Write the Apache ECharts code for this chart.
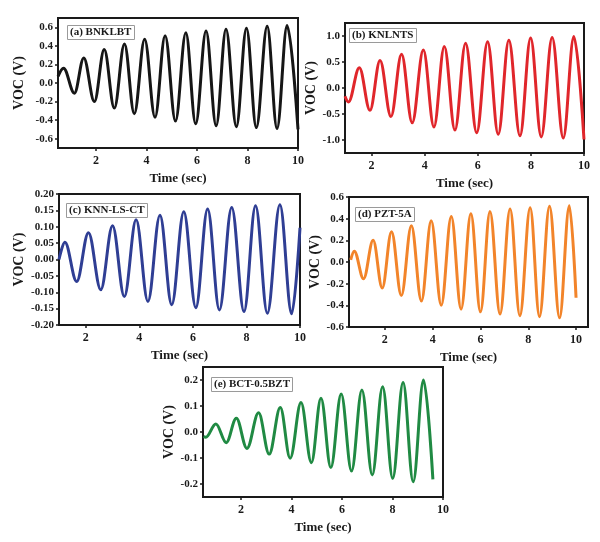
<!DOCTYPE html>
<html>
<head>
<meta charset="utf-8">
<script src="https://cdn.jsdelivr.net/npm/echarts@6/dist/echarts.min.js"></script>
<style>
  html, body { margin: 0; padding: 0; background: #fff; }
  #chart { width: 600px; height: 542px; }
</style>
</head>
<body>
<div id="chart"></div>
<script>
// turning points (peaks / troughs), time in sec, VOC in V
const timeA = [0.5, 0.72, 1.15, 1.52, 1.94, 2.33, 2.73, 3.13, 3.52, 3.93, 4.34, 4.74, 5.15, 5.56, 5.95, 6.36, 6.76, 7.15, 7.56, 7.96, 8.35, 8.78, 9.17, 9.57, 10.0]
const vocA = [0.07, 0.16, -0.11, 0.27, -0.2, 0.36, -0.27, 0.42, -0.33, 0.47, -0.37, 0.51, -0.41, 0.54, -0.44, 0.56, -0.46, 0.58, -0.47, 0.59, -0.48, 0.61, -0.49, 0.62, -0.5]

const timeB = [1.0, 1.13, 1.54, 1.94, 2.32, 2.73, 3.13, 3.53, 3.95, 4.35, 4.74, 5.14, 5.54, 5.96, 6.37, 6.77, 7.17, 7.59, 7.99, 8.39, 8.8, 9.22, 9.62, 10.0]
const vocB = [-0.16, -0.27, 0.39, -0.43, 0.53, -0.55, 0.65, -0.67, 0.73, -0.75, 0.8, -0.81, 0.86, -0.86, 0.89, -0.89, 0.92, -0.92, 0.96, -0.94, 0.97, -0.96, 0.99, -0.99]

const timeC = [1.0, 1.22, 1.66, 2.1, 2.56, 3.0, 3.44, 3.88, 4.32, 4.77, 5.21, 5.66, 6.11, 6.55, 6.99, 7.45, 7.91, 8.34, 8.78, 9.25, 9.69, 10.0]
const vocC = [0.0, 0.053, -0.067, 0.082, -0.092, 0.103, -0.113, 0.121, -0.128, 0.135, -0.138, 0.146, -0.147, 0.154, -0.154, 0.159, -0.159, 0.164, -0.164, 0.167, -0.166, 0.097]

const timeD = [0.57, 0.72, 1.11, 1.51, 1.89, 2.28, 2.69, 3.11, 3.53, 3.94, 4.36, 4.78, 5.19, 5.6, 6.0, 6.4, 6.82, 7.24, 7.65, 8.08, 8.47, 8.89, 9.31, 9.72, 10.0]
const vocD = [0.02, 0.1, -0.155, 0.2, -0.24, 0.28, -0.31, 0.335, -0.36, 0.38, -0.4, 0.42, -0.435, 0.445, -0.46, 0.465, -0.48, 0.49, -0.495, 0.5, -0.505, 0.515, -0.515, 0.52, -0.33]

const timeE = [0.52, 0.61, 1.01, 1.42, 1.82, 2.24, 2.7, 3.12, 3.56, 3.95, 4.38, 4.79, 5.17, 5.56, 5.97, 6.38, 6.79, 7.2, 7.61, 8.01, 8.42, 8.82, 9.23, 9.6]
const vocE = [-0.018, -0.02, 0.031, -0.041, 0.053, -0.063, 0.074, -0.085, 0.094, -0.101, 0.113, -0.118, 0.13, -0.137, 0.146, -0.15, 0.162, -0.165, 0.174, -0.178, 0.19, -0.191, 0.2, -0.182]

// tick labels
const timeTicks = [2, 4, 6, 8, 10]
const ticksA = [-0.6, -0.4, -0.2, 0.0, 0.2, 0.4, 0.6]
const ticksB = [-1.0, -0.5, 0.0, 0.5, 1.0]
const ticksC = [-0.2, -0.15, -0.1, -0.05, 0.0, 0.05, 0.1, 0.15, 0.2]
const ticksD = [-0.6, -0.4, -0.2, 0.0, 0.2, 0.4, 0.6]
const ticksE = [-0.2, -0.1, 0.0, 0.1, 0.2]

const labels = ['(a) BNKLBT', '(b) KNLNTS', '(c) KNN-LS-CT', '(d) PZT-5A', '(e) BCT-0.5BZT']
const colors = ['#161616', '#e0262b', '#2f3e94', '#f2842a', '#208a43']

const FONT = '"Liberation Serif", "DejaVu Serif", serif'

const panels = [
  { grid: { left: 58, top: 18, width: 240, height: 130 }, x: [0.5, 10], y: [-0.7, 0.7], ticks: ticksA, digits: 1, gap: 32, t: timeA, v: vocA, box: [67, 25] },
  { grid: { left: 345, top: 23, width: 239, height: 130 }, x: [1, 10], y: [-1.25, 1.25], ticks: ticksB, digits: 1, gap: 22, t: timeB, v: vocB, box: [349, 28] },
  { grid: { left: 59, top: 194, width: 241, height: 131 }, x: [1, 10], y: [-0.2, 0.2], ticks: ticksC, digits: 2, gap: 33, t: timeC, v: vocC, box: [66, 203] },
  { grid: { left: 349, top: 197, width: 239, height: 130 }, x: [0.5, 10.5], y: [-0.6, 0.6], ticks: ticksD, digits: 1, gap: 23, t: timeD, v: vocD, box: [355, 207] },
  { grid: { left: 203, top: 367, width: 240, height: 130 }, x: [0.5, 10], y: [-0.25, 0.25], ticks: ticksE, digits: 1, gap: 24, t: timeE, v: vocE, box: [211, 377] },
]

const axisLine = { show: true, onZero: false, lineStyle: { color: '#1a1a1a', width: 2 } }
const axisTick = (vals) => ({ show: true, inside: false, length: 3, customValues: vals, lineStyle: { color: '#1a1a1a', width: 1.5 } })
const nameStyle = { fontFamily: FONT, fontWeight: 'bold', fontSize: 13, color: '#1a1a1a' }

const option = {
  backgroundColor: '#fff',
  animation: false,
  title: panels.map((p, i) => ({
    text: labels[i],
    left: p.box[0],
    top: p.box[1],
    padding: [2, 3],
    borderColor: '#9a9a9a',
    borderWidth: 1,
    backgroundColor: '#fff',
    textStyle: { fontFamily: FONT, fontWeight: 'bold', fontSize: 11, color: '#1a1a1a' },
  })),
  grid: panels.map((p) => ({
    ...p.grid,
    show: true,
    borderColor: '#1a1a1a',
    borderWidth: 2,
    backgroundColor: 'transparent',
  })),
  xAxis: panels.map((p, i) => ({
    type: 'value',
    gridIndex: i,
    min: p.x[0],
    max: p.x[1],
    name: 'Time (sec)',
    nameLocation: 'middle',
    nameGap: 24,
    nameTextStyle: nameStyle,
    axisLine,
    axisTick: axisTick(timeTicks),
    axisLabel: {
      customValues: timeTicks,
      fontFamily: FONT,
      fontWeight: 'bold',
      fontSize: 12,
      color: '#1a1a1a',
      margin: 7,
    },
    splitLine: { show: false },
  })),
  yAxis: panels.map((p, i) => ({
    type: 'value',
    gridIndex: i,
    min: p.y[0],
    max: p.y[1],
    name: 'VOC (V)',
    nameLocation: 'middle',
    nameGap: p.gap,
    nameTextStyle: { ...nameStyle, fontSize: 14 },
    axisLine,
    axisTick: axisTick(p.ticks),
    axisLabel: {
      customValues: p.ticks,
      formatter: (val) => val.toFixed(p.digits),
      fontFamily: FONT,
      fontWeight: 'bold',
      fontSize: 11,
      color: '#1a1a1a',
      margin: 5,
    },
    splitLine: { show: false },
  })),
  series: panels.map((p, i) => ({
    type: 'line',
    xAxisIndex: i,
    yAxisIndex: i,
    data: p.t.map((t, k) => [t, p.v[k]]),
    showSymbol: false,
    smooth: 0.36,
    smoothMonotone: 'x',
    lineStyle: { color: colors[i], width: 3 },
    itemStyle: { color: colors[i] },
  })),
}

const chart = echarts.init(document.getElementById('chart'))
chart.setOption(option)
</script>
</body>
</html>
